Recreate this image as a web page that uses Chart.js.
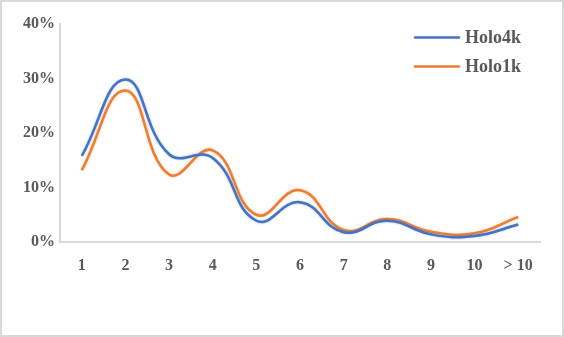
<!DOCTYPE html>
<html>
<head>
<meta charset="utf-8">
<script src="https://cdn.jsdelivr.net/npm/chart.js@4"></script>
<style>
html,body{margin:0;padding:0;background:#fff;}
#wrap{width:564px;height:337px;box-sizing:border-box;border:2px solid #d9d9d9;background:#fff;}
canvas{display:block;}
</style>
</head>
<body>
<div id="wrap"><canvas id="c" width="560" height="333"></canvas></div>
<script>
const categories = ['1','2','3','4','5','6','7','8','9','10','> 10'];
const holo4k = [15.8, 29.8, 16.1, 15.4, 3.9, 7.3, 1.8, 3.9, 1.4, 1.1, 3.2];
const holo1k = [13.2, 27.8, 12.4, 16.8, 5.0, 9.5, 2.2, 4.2, 1.9, 1.6, 4.6];
const yTicks = [0, 10, 20, 30, 40];
const seriesNames = ['Holo4k', 'Holo1k'];
const seriesColors = ['#4472C4', '#ED7D31'];

const FONT = "'Liberation Serif', 'Times New Roman', serif";

const legendPlugin = {
  id: 'sideLegend',
  afterDraw(chart) {
    const ctx = chart.ctx;
    const ca = chart.chartArea;
    ctx.save();
    chart.data.datasets.forEach((ds, i) => {
      const y = ca.top + 13.5 + i * 29;
      const x0 = ca.right - 125;
      ctx.strokeStyle = ds.borderColor;
      ctx.lineWidth = 2.5;
      ctx.lineCap = 'round';
      ctx.beginPath();
      ctx.moveTo(x0, y);
      ctx.lineTo(x0 + 44, y);
      ctx.stroke();
      ctx.fillStyle = '#595959';
      ctx.font = 'bold 18px ' + FONT;
      ctx.textBaseline = 'middle';
      ctx.textAlign = 'left';
      ctx.fillText(ds.label, x0 + 50, y + 1);
    });
    ctx.restore();
  }
};

const glowPlugin = {
  id: 'glow',
  beforeDatasetDraw(chart, args) {
    const ctx = chart.ctx;
    ctx.save();
    ctx.shadowColor = args.meta.dataset.options.borderColor + '88';
    ctx.shadowBlur = 2;
  },
  afterDatasetDraw(chart) {
    chart.ctx.restore();
  }
};

new Chart(document.getElementById('c'), {
  type: 'line',
  data: {
    labels: categories,
    datasets: [
      { label: seriesNames[0], data: holo4k, borderColor: seriesColors[0], backgroundColor: seriesColors[0], borderWidth: 2.5, pointRadius: 0, tension: 0.45, fill: false },
      { label: seriesNames[1], data: holo1k, borderColor: seriesColors[1], backgroundColor: seriesColors[1], borderWidth: 2.5, pointRadius: 0, tension: 0.45, fill: false }
    ]
  },
  options: {
    responsive: false,
    animation: false,
    layout: { padding: { top: 22, right: 22, bottom: 0, left: 0 } },
    plugins: { legend: { display: false }, tooltip: { enabled: false } },
    scales: {
      x: {
        offset: true,
        grid: { display: false, drawTicks: false },
        border: { display: true, color: '#d9d9d9', width: 2 },
        ticks: { color: '#595959', font: { family: FONT, size: 16, weight: 'bold' }, padding: 14, maxRotation: 0, autoSkip: false },
        afterFit(s) { s.height = 93; }
      },
      y: {
        min: 0, max: 40,
        afterBuildTicks(s) { s.ticks = yTicks.map(v => ({ value: v })); },
        grid: { display: false, drawTicks: false },
        border: { display: true, color: '#d9d9d9', width: 2 },
        ticks: { color: '#595959', font: { family: FONT, size: 16, weight: 'bold' }, padding: 5, callback: v => v + '%' },
        afterFit(s) { s.width = 58; }
      }
    }
  },
  plugins: [legendPlugin, glowPlugin]
});
</script>
</body>
</html>
